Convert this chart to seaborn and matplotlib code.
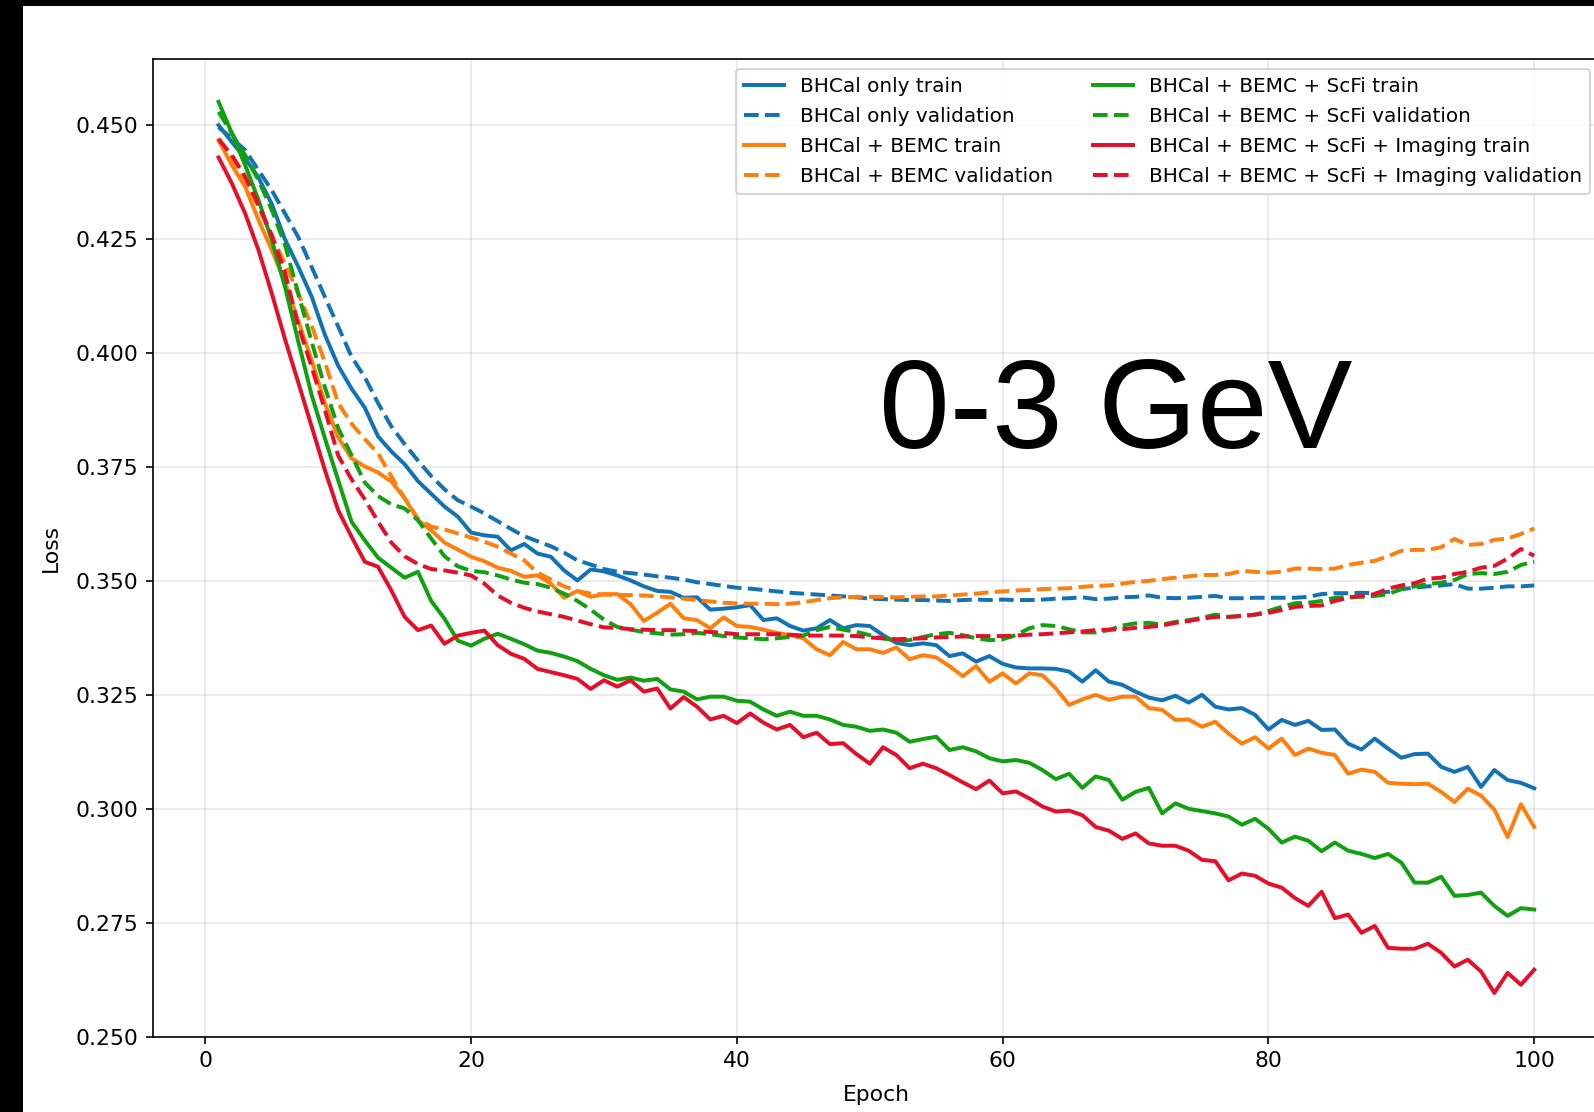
import matplotlib
matplotlib.use("Agg")
import matplotlib.pyplot as plt
from matplotlib.patches import Rectangle
import seaborn as sns
import numpy as np

epochs = list(range(1, 101))

bhcal_train = [0.4500, 0.4463, 0.4427, 0.4385, 0.4327, 0.4249, 0.4189, 0.4124, 0.4040, 0.3972,
               0.3922, 0.3880, 0.3817, 0.3784, 0.3756, 0.3719, 0.3691, 0.3663, 0.3641, 0.3606,
               0.3600, 0.3597, 0.3567, 0.3581, 0.3560, 0.3553, 0.3523, 0.3501, 0.3525, 0.3521,
               0.3512, 0.3501, 0.3488, 0.3478, 0.3476, 0.3463, 0.3464, 0.3437, 0.3439, 0.3442,
               0.3447, 0.3414, 0.3418, 0.3401, 0.3391, 0.3396, 0.3414, 0.3396, 0.3403, 0.3401,
               0.3381, 0.3364, 0.3359, 0.3363, 0.3359, 0.3335, 0.3341, 0.3323, 0.3335, 0.3318,
               0.3310, 0.3308, 0.3308, 0.3307, 0.3301, 0.3279, 0.3304, 0.3279, 0.3272, 0.3257,
               0.3244, 0.3238, 0.3248, 0.3233, 0.3250, 0.3224, 0.3218, 0.3221, 0.3206, 0.3174,
               0.3195, 0.3184, 0.3193, 0.3173, 0.3174, 0.3143, 0.3130, 0.3154, 0.3132, 0.3112,
               0.3120, 0.3121, 0.3092, 0.3081, 0.3092, 0.3048, 0.3085, 0.3063, 0.3057, 0.3045]

bhcal_val = [0.4495, 0.4471, 0.4445, 0.4401, 0.4357, 0.4306, 0.4254, 0.4189, 0.4123, 0.4058,
             0.3992, 0.3947, 0.3890, 0.3839, 0.3800, 0.3764, 0.3730, 0.3701, 0.3677, 0.3663,
             0.3648, 0.3631, 0.3614, 0.3598, 0.3587, 0.3576, 0.3562, 0.3545, 0.3536, 0.3526,
             0.3520, 0.3517, 0.3514, 0.3510, 0.3507, 0.3503, 0.3497, 0.3493, 0.3489, 0.3485,
             0.3483, 0.3480, 0.3477, 0.3474, 0.3472, 0.3470, 0.3468, 0.3466, 0.3464, 0.3461,
             0.3460, 0.3459, 0.3458, 0.3458, 0.3457, 0.3456, 0.3458, 0.3459, 0.3458, 0.3459,
             0.3458, 0.3458, 0.3459, 0.3461, 0.3462, 0.3464, 0.3460, 0.3461, 0.3464, 0.3465,
             0.3468, 0.3463, 0.3462, 0.3463, 0.3465, 0.3467, 0.3462, 0.3462, 0.3463, 0.3463,
             0.3463, 0.3463, 0.3465, 0.3471, 0.3473, 0.3473, 0.3474, 0.3473, 0.3476, 0.3482,
             0.3485, 0.3488, 0.3490, 0.3493, 0.3483, 0.3483, 0.3485, 0.3488, 0.3488, 0.3490]

bemc_train = [0.4467, 0.4412, 0.4365, 0.4292, 0.4226, 0.4156, 0.4070, 0.3985, 0.3890, 0.3815,
              0.3769, 0.3751, 0.3738, 0.3718, 0.3682, 0.3633, 0.3611, 0.3584, 0.3569, 0.3553,
              0.3543, 0.3529, 0.3522, 0.3509, 0.3512, 0.3494, 0.3463, 0.3478, 0.3465, 0.3471,
              0.3471, 0.3449, 0.3412, 0.3430, 0.3450, 0.3418, 0.3414, 0.3396, 0.3420, 0.3401,
              0.3399, 0.3393, 0.3386, 0.3381, 0.3374, 0.3350, 0.3337, 0.3366, 0.3350, 0.3350,
              0.3342, 0.3354, 0.3328, 0.3337, 0.3332, 0.3313, 0.3291, 0.3313, 0.3279, 0.3297,
              0.3275, 0.3297, 0.3293, 0.3264, 0.3228, 0.3240, 0.3250, 0.3239, 0.3246, 0.3246,
              0.3221, 0.3217, 0.3195, 0.3196, 0.3180, 0.3191, 0.3165, 0.3143, 0.3157, 0.3132,
              0.3154, 0.3118, 0.3132, 0.3123, 0.3118, 0.3077, 0.3086, 0.3081, 0.3057, 0.3055,
              0.3054, 0.3055, 0.3037, 0.3015, 0.3044, 0.3029, 0.2998, 0.2938, 0.3010, 0.2960]

bemc_val = [0.4471, 0.4427, 0.4379, 0.4321, 0.4255, 0.4197, 0.4130, 0.4060, 0.3980, 0.3890,
            0.3845, 0.3811, 0.3780, 0.3729, 0.3681, 0.3637, 0.3619, 0.3613, 0.3604, 0.3595,
            0.3586, 0.3575, 0.3560, 0.3545, 0.3518, 0.3503, 0.3488, 0.3478, 0.3472, 0.3470,
            0.3469, 0.3469, 0.3468, 0.3466, 0.3464, 0.3461, 0.3458, 0.3455, 0.3452, 0.3451,
            0.3450, 0.3450, 0.3449, 0.3450, 0.3453, 0.3458, 0.3462, 0.3464, 0.3465, 0.3465,
            0.3465, 0.3464, 0.3465, 0.3466, 0.3466, 0.3468, 0.3470, 0.3472, 0.3475, 0.3477,
            0.3479, 0.3480, 0.3482, 0.3483, 0.3484, 0.3487, 0.3489, 0.3490, 0.3494, 0.3498,
            0.3500, 0.3504, 0.3507, 0.3510, 0.3513, 0.3513, 0.3515, 0.3522, 0.3520, 0.3518,
            0.3520, 0.3527, 0.3527, 0.3526, 0.3527, 0.3535, 0.3540, 0.3544, 0.3554, 0.3566,
            0.3568, 0.3568, 0.3574, 0.3592, 0.3579, 0.3581, 0.3590, 0.3593, 0.3603, 0.3615]

scfi_train = [0.4551, 0.4482, 0.4412, 0.4336, 0.4248, 0.4145, 0.4025, 0.3908, 0.3813, 0.3721,
              0.3630, 0.3589, 0.3551, 0.3529, 0.3507, 0.3520, 0.3456, 0.3417, 0.3369, 0.3358,
              0.3373, 0.3384, 0.3373, 0.3361, 0.3347, 0.3342, 0.3334, 0.3324, 0.3307, 0.3293,
              0.3283, 0.3288, 0.3281, 0.3285, 0.3262, 0.3257, 0.3240, 0.3246, 0.3246, 0.3237,
              0.3235, 0.3218, 0.3204, 0.3213, 0.3204, 0.3204, 0.3196, 0.3184, 0.3180, 0.3171,
              0.3174, 0.3167, 0.3147, 0.3153, 0.3158, 0.3129, 0.3135, 0.3126, 0.3111, 0.3104,
              0.3107, 0.3101, 0.3085, 0.3065, 0.3077, 0.3046, 0.3071, 0.3063, 0.3020, 0.3037,
              0.3046, 0.2990, 0.3012, 0.3000, 0.2995, 0.2990, 0.2983, 0.2965, 0.2978, 0.2956,
              0.2926, 0.2939, 0.2930, 0.2907, 0.2926, 0.2908, 0.2901, 0.2892, 0.2901, 0.2882,
              0.2838, 0.2838, 0.2851, 0.2809, 0.2811, 0.2816, 0.2787, 0.2765, 0.2782, 0.2779]

scfi_val = [0.4529, 0.4482, 0.4434, 0.4379, 0.4314, 0.4237, 0.4130, 0.4025, 0.3925, 0.3835,
            0.3776, 0.3716, 0.3686, 0.3668, 0.3659, 0.3633, 0.3593, 0.3554, 0.3532, 0.3522,
            0.3519, 0.3512, 0.3503, 0.3496, 0.3493, 0.3485, 0.3472, 0.3456, 0.3437, 0.3415,
            0.3399, 0.3393, 0.3388, 0.3385, 0.3382, 0.3383, 0.3386, 0.3383, 0.3379, 0.3376,
            0.3374, 0.3372, 0.3374, 0.3377, 0.3380, 0.3392, 0.3399, 0.3393, 0.3388, 0.3381,
            0.3374, 0.3369, 0.3370, 0.3377, 0.3383, 0.3386, 0.3381, 0.3374, 0.3370, 0.3372,
            0.3381, 0.3396, 0.3403, 0.3401, 0.3394, 0.3387, 0.3387, 0.3392, 0.3402, 0.3407,
            0.3408, 0.3404, 0.3410, 0.3414, 0.3419, 0.3426, 0.3421, 0.3423, 0.3426, 0.3434,
            0.3443, 0.3451, 0.3452, 0.3456, 0.3463, 0.3465, 0.3465, 0.3467, 0.3471, 0.3482,
            0.3488, 0.3493, 0.3496, 0.3502, 0.3515, 0.3517, 0.3515, 0.3520, 0.3535, 0.3542]

imaging_train = [0.4429, 0.4372, 0.4306, 0.4226, 0.4131, 0.4030, 0.3935, 0.3839, 0.3743, 0.3655,
                 0.3597, 0.3542, 0.3531, 0.3479, 0.3421, 0.3392, 0.3402, 0.3362, 0.3380, 0.3386,
                 0.3391, 0.3359, 0.3340, 0.3329, 0.3307, 0.3300, 0.3293, 0.3285, 0.3263, 0.3282,
                 0.3268, 0.3282, 0.3257, 0.3264, 0.3220, 0.3245, 0.3224, 0.3196, 0.3204, 0.3188,
                 0.3209, 0.3189, 0.3174, 0.3184, 0.3157, 0.3167, 0.3142, 0.3144, 0.3120, 0.3099,
                 0.3135, 0.3118, 0.3089, 0.3099, 0.3089, 0.3074, 0.3058, 0.3043, 0.3062, 0.3034,
                 0.3038, 0.3023, 0.3005, 0.2994, 0.2996, 0.2986, 0.2960, 0.2952, 0.2934, 0.2946,
                 0.2924, 0.2919, 0.2919, 0.2908, 0.2888, 0.2885, 0.2843, 0.2858, 0.2853, 0.2836,
                 0.2827, 0.2804, 0.2787, 0.2818, 0.2760, 0.2768, 0.2728, 0.2743, 0.2695, 0.2693,
                 0.2693, 0.2704, 0.2684, 0.2654, 0.2669, 0.2643, 0.2596, 0.2640, 0.2614, 0.2647]

imaging_val = [0.4469, 0.4434, 0.4387, 0.4325, 0.4259, 0.4176, 0.4060, 0.3970, 0.3875, 0.3775,
               0.3723, 0.3679, 0.3630, 0.3584, 0.3554, 0.3537, 0.3526, 0.3523, 0.3518, 0.3512,
               0.3494, 0.3468, 0.3452, 0.3441, 0.3433, 0.3427, 0.3421, 0.3413, 0.3405, 0.3398,
               0.3397, 0.3394, 0.3393, 0.3392, 0.3392, 0.3391, 0.3390, 0.3388, 0.3386, 0.3383,
               0.3383, 0.3383, 0.3383, 0.3382, 0.3380, 0.3380, 0.3380, 0.3380, 0.3379, 0.3376,
               0.3374, 0.3372, 0.3373, 0.3374, 0.3376, 0.3377, 0.3378, 0.3379, 0.3379, 0.3379,
               0.3380, 0.3382, 0.3383, 0.3385, 0.3387, 0.3389, 0.3392, 0.3393, 0.3394, 0.3397,
               0.3399, 0.3402, 0.3408, 0.3412, 0.3417, 0.3421, 0.3421, 0.3423, 0.3426, 0.3430,
               0.3436, 0.3443, 0.3445, 0.3446, 0.3456, 0.3463, 0.3467, 0.3471, 0.3483, 0.3490,
               0.3495, 0.3505, 0.3507, 0.3515, 0.3520, 0.3529, 0.3533, 0.3549, 0.3570, 0.3555]

labels = ["BHCal only train", "BHCal only validation",
          "BHCal + BEMC train", "BHCal + BEMC validation",
          "BHCal + BEMC + ScFi train", "BHCal + BEMC + ScFi validation",
          "BHCal + BEMC + ScFi + Imaging train", "BHCal + BEMC + ScFi + Imaging validation"]
series = [bhcal_train, bhcal_val, bemc_train, bemc_val,
          scfi_train, scfi_val, imaging_train, imaging_val]
colors = ["#1272b6", "#1272b6", "#ff7f0e", "#ff7f0e",
          "#10a010", "#10a010", "#e4102a", "#e4102a"]
styles = ["-", "--", "-", "--", "-", "--", "-", "--"]

W, H, DPI = 1594, 1112, 150
fig = plt.figure(figsize=(W / DPI, H / DPI), dpi=DPI)
ax_left, ax_right = 152.8 / W, 1600.0 / W
ax_bottom, ax_top = (H - 1036.7) / H, (H - 59.0) / H
ax = fig.add_axes([ax_left, ax_bottom, ax_right - ax_left, ax_top - ax_bottom])

for vals, lab, col, ls in zip(series, labels, colors, styles):
    sns.lineplot(x=epochs, y=vals, ax=ax, color=col, linestyle=ls, linewidth=1.9, label=lab)

ax.set_xlim(-3.95, 104.95)
ax.set_ylim(0.25, 0.4645)
ax.set_yticks(np.arange(0.25, 0.4501, 0.025))
ax.yaxis.set_major_formatter(matplotlib.ticker.FormatStrFormatter("%.3f"))
ax.tick_params(labelsize=10.5)
ax.set_xlabel("Epoch", fontsize=10.5, labelpad=6.5)
ax.set_ylabel("Loss", fontsize=10.5, labelpad=7)
ax.grid(True, alpha=0.3)
ax.legend(loc="upper right", ncol=2, fontsize=9.6, labelspacing=0.55)

ax.text(0.5015, 0.602, "0-3 GeV", transform=ax.transAxes, fontsize=61,
        family="Liberation Sans", va="baseline", ha="left", color="black")

# screenshot borders
fig.patches.append(Rectangle((0, 0), 22.5 / W, 1, transform=fig.transFigure,
                             facecolor="black", edgecolor="none", zorder=10))
fig.patches.append(Rectangle((0, 1 - 5.5 / H), 1, 5.5 / H, transform=fig.transFigure,
                             facecolor="black", edgecolor="none", zorder=10))

fig.savefig("out.png", dpi=DPI)
